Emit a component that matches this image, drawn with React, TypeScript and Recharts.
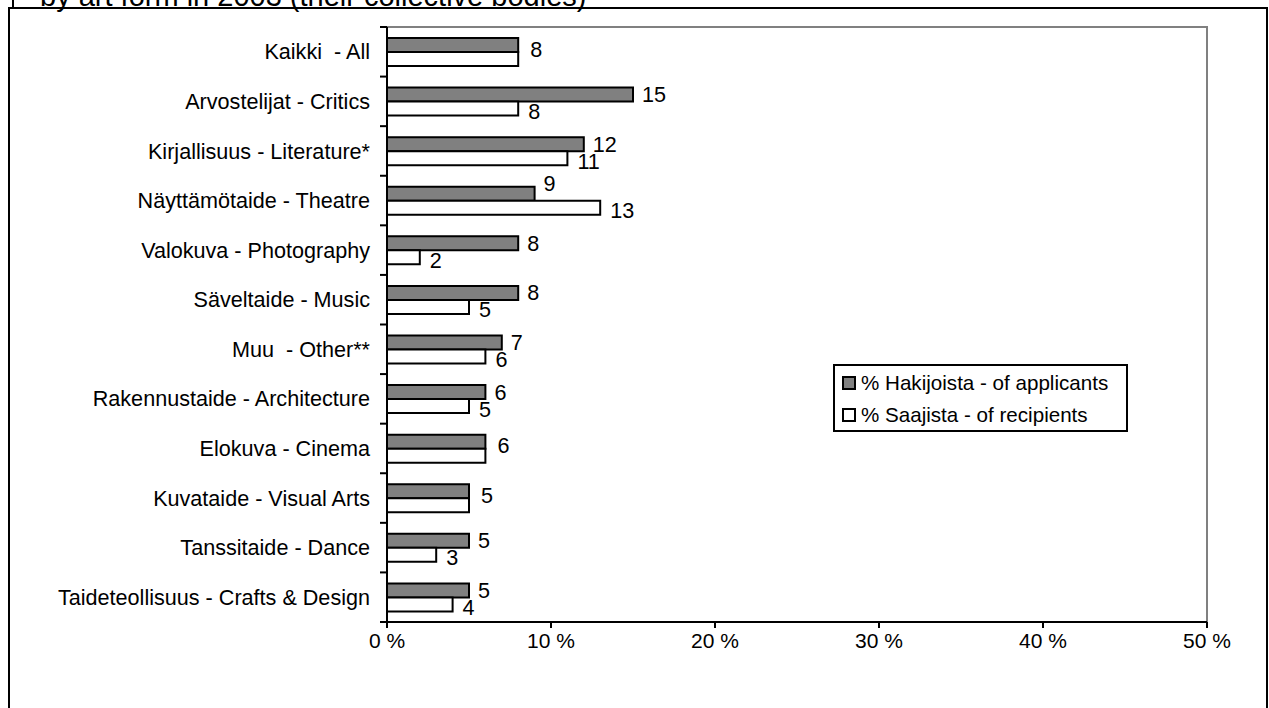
import React from "react";
import { BarChart, Bar, XAxis, YAxis, LabelList, Legend, ReferenceArea } from "recharts";

const categories = [
  "Kaikki  - All",
  "Arvostelijat - Critics",
  "Kirjallisuus - Literature*",
  "Näyttämötaide - Theatre",
  "Valokuva - Photography",
  "Säveltaide - Music",
  "Muu  - Other**",
  "Rakennustaide - Architecture",
  "Elokuva - Cinema",
  "Kuvataide - Visual Arts",
  "Tanssitaide - Dance",
  "Taideteollisuus - Crafts & Design",
];
const applicants = [8, 15, 12, 9, 8, 8, 7, 6, 6, 5, 5, 5];
const recipients = [8, 8, 11, 13, 2, 5, 6, 5, 6, 5, 3, 4];
const xTicks = [0, 10, 20, 30, 40, 50];
const seriesNames = ["% Hakijoista - of applicants", "% Saajista - of recipients"];
const titleText = "by art form in 2003 (their collective bodies)";

const data = categories.map((name, i) => ({ name, app: applicants[i], rec: recipients[i] }));

const W = 1269;
const H = 708;
const PLOT_LEFT = 387;
const PLOT_TOP = 27;
const PLOT_RIGHT = 1207;
const PLOT_BOTTOM = 622;
const X_AXIS_H = 30;
const PLOT_H = PLOT_BOTTOM - PLOT_TOP;
const FONT = '"Liberation Sans", Arial, Helvetica, sans-serif';
const FS = 21;
const FS_CAT = 21.6;
const FS_LEG = 20.6;

const YTick = (props: any) => {
  const { y, index, payload } = props;
  const band = PLOT_H / categories.length;
  const ax = PLOT_LEFT;
  return (
    <g>
      <line x1={ax - 7} x2={ax} y1={y - band / 2} y2={y - band / 2} stroke="#000" strokeWidth={2} />
      {index === categories.length - 1 && (
        <line x1={ax - 7} x2={ax} y1={y + band / 2} y2={y + band / 2} stroke="#000" strokeWidth={2} />
      )}
      <text
        x={ax - 17}
        y={y}
        dy="0.35em"
        textAnchor="end"
        fill="#000"
        style={{ fontFamily: FONT, fontSize: FS_CAT, whiteSpace: "pre" }}
      >
        {payload.value}
      </text>
    </g>
  );
};

const makeLabel = (series: "app" | "rec") => (props: any) => {
  const { index, value } = props;
  const vb = props.viewBox && props.viewBox.width !== undefined ? props.viewBox : props;
  const x = Number(vb.x);
  const y = Number(vb.y);
  const width = Number(vb.width);
  const height = Number(vb.height);
  const a = applicants[index];
  const r = recipients[index];
  if (a === r && series === "rec") return null;
  let tx = x + width + 9;
  let ty = y + height / 2;
  if (a === r) {
    ty = y + height - 3;
    tx = x + width + 12;
  } else if (series === "app" && r > a) {
    ty -= 10;
  } else if (series === "rec") {
    ty += 3;
    tx = x + width + 10;
  }
  return (
    <text x={tx} y={ty} dy="0.35em" fill="#000" style={{ fontFamily: FONT, fontSize: FS_CAT }}>
      {value}
    </text>
  );
};

const LegendBox = (props: any) => {
  const payload = props.payload || [];
  return (
    <div
      style={{
        boxSizing: "border-box",
        width: 295,
        height: 68,
        border: "2px solid #000",
        background: "#fff",
        paddingTop: 1,
        fontFamily: FONT,
        fontSize: FS_LEG,
        color: "#000",
      }}
    >
      {payload.map((p: any, i: number) => (
        <div key={i} style={{ height: 32, display: "flex", alignItems: "center", paddingLeft: 7 }}>
          <span
            style={{
              display: "inline-block",
              boxSizing: "border-box",
              width: 14,
              height: 14,
              border: "2px solid #000",
              background: p.color,
              marginRight: 5,
            }}
          />
          <span style={{ whiteSpace: "pre", lineHeight: "32px" }}>{p.value}</span>
        </div>
      ))}
    </div>
  );
};

export default function App() {
  return (
    <div style={{ position: "absolute", left: 0, top: 0, width: W, height: H, overflow: "hidden", background: "#fff", fontFamily: FONT }}>
      <svg width={W} height={H} style={{ position: "absolute", left: 0, top: 0 }}>
        <text x={40} y={6} fill="#000" style={{ fontFamily: FONT, fontSize: 29 }}>
          {titleText}
        </text>
        <line x1={13} x2={13} y1={-10} y2={8} stroke="#000" strokeWidth={2} />
        <rect x={9} y={8} width={1258} height={720} fill="none" stroke="#000" strokeWidth={2} />
      </svg>
      <div style={{ position: "absolute", left: 0, top: 0 }}>
        <BarChart
          width={W}
          height={H}
          data={data}
          layout="vertical"
          barGap={0}
          margin={{ top: PLOT_TOP, right: W - PLOT_RIGHT, left: 0, bottom: H - PLOT_BOTTOM - X_AXIS_H }}
        >
          <ReferenceArea x1={0} x2={50} fill="none" stroke="#808080" strokeWidth={2} ifOverflow="visible" />
          <XAxis
            type="number"
            domain={[0, 50]}
            ticks={xTicks}
            tickFormatter={(v: number) => `${v} %`}
            height={X_AXIS_H}
            tickSize={6}
            tickMargin={5}
            axisLine={{ stroke: "#000", strokeWidth: 2 }}
            tickLine={{ stroke: "#000", strokeWidth: 2 }}
            tick={{ fill: "#000", fontSize: FS, fontFamily: FONT }}
            interval={0}
          />
          <YAxis
            type="category"
            dataKey="name"
            width={PLOT_LEFT}
            axisLine={{ stroke: "#000", strokeWidth: 2 }}
            tickLine={false}
            tick={<YTick />}
            interval={0}
          />
          <Legend
            layout="horizontal"
            verticalAlign="middle"
            align="center"
            content={<LegendBox />}
            wrapperStyle={{ position: "absolute", left: 833, top: 364, width: 295, height: 68 }}
          />
          <Bar dataKey="app" name={seriesNames[0]} fill="#808080" stroke="#000" strokeWidth={2} barSize={14} isAnimationActive={false}>
            <LabelList dataKey="app" content={makeLabel("app")} />
          </Bar>
          <Bar dataKey="rec" name={seriesNames[1]} fill="#ffffff" stroke="#000" strokeWidth={2} barSize={14} isAnimationActive={false}>
            <LabelList dataKey="rec" content={makeLabel("rec")} />
          </Bar>
        </BarChart>
      </div>
    </div>
  );
}
